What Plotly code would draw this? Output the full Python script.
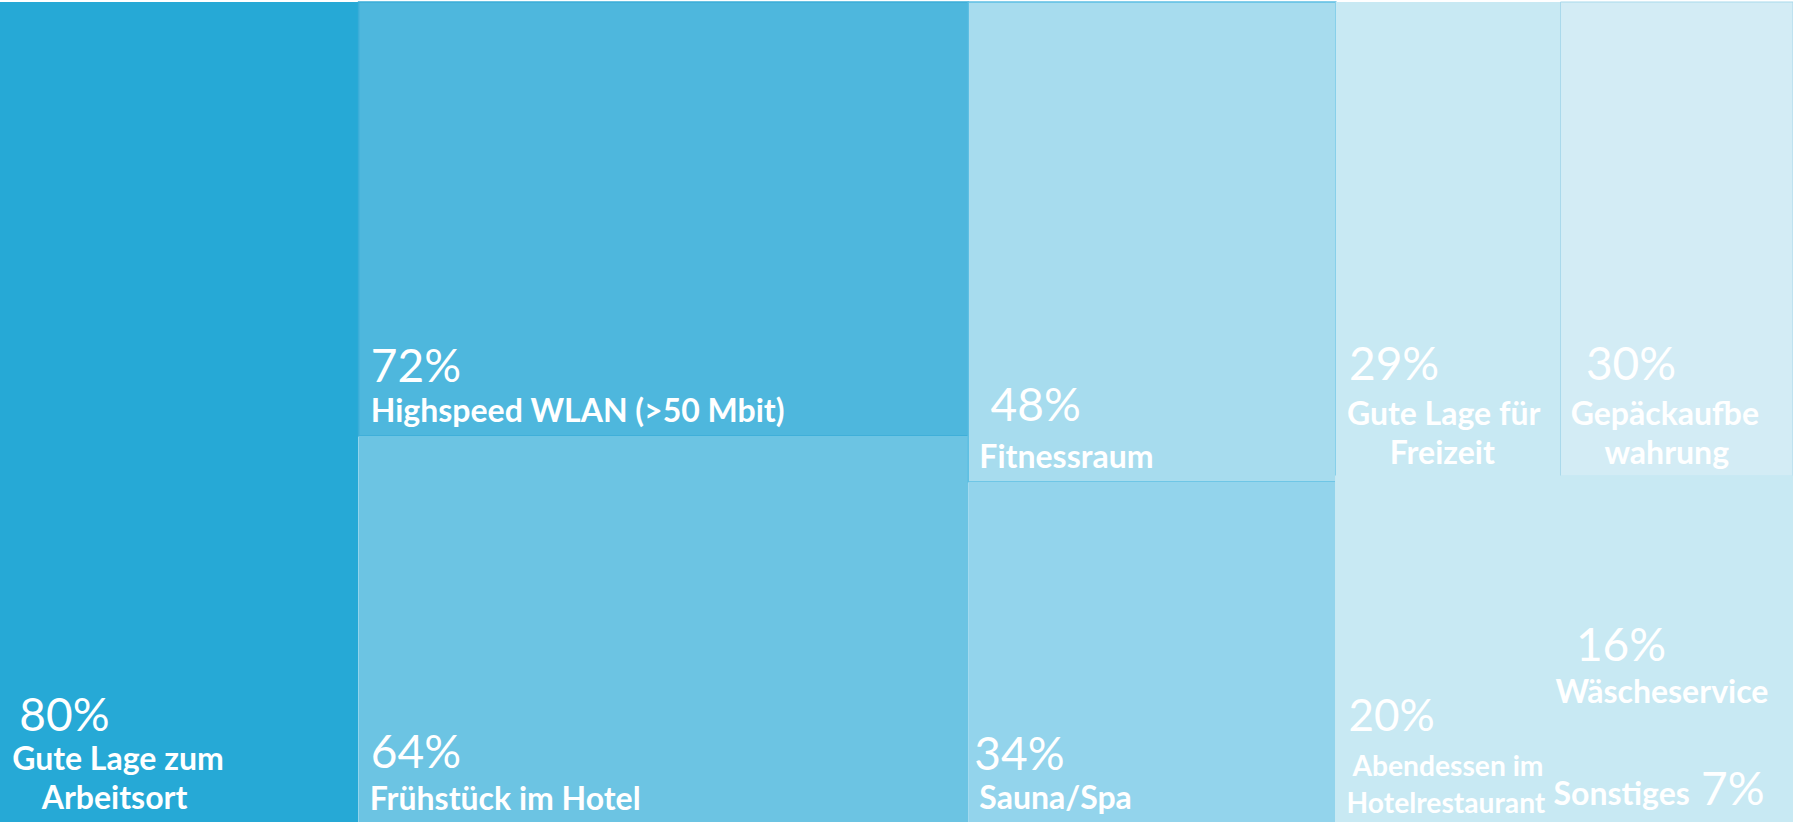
import math
import plotly.graph_objects as go

# ---- data ----
categories = ["Gute Lage zum Arbeitsort", "Highspeed WLAN (>50 Mbit)", "Frühstück im Hotel",
              "Fitnessraum", "Sauna/Spa", "Gute Lage für Freizeit", "Gepäckaufbewahrung",
              "Abendessen im Hotelrestaurant", "Wäscheservice", "Sonstiges"]
label_lines = [["Gute Lage zum", "Arbeitsort"], ["Highspeed WLAN (>50 Mbit)"], ["Frühstück im Hotel"],
               ["Fitnessraum"], ["Sauna/Spa"], ["Gute Lage für", "Freizeit"], ["Gepäckaufbe", "wahrung"],
               ["Abendessen im", "Hotelrestaurant"], ["Wäscheservice"], ["Sonstiges"]]
values = [80, 72, 64, 48, 34, 29, 30, 20, 16, 7]
group_of = ["root", "g2", "g2", "g3", "g3", "r1", "r1", "r2", "s", "s"]
colors = ["#26A9D6", "#4EB7DD", "#6CC4E3", "#A7DCEE", "#93D4EC",
          "#C8E9F3", "#D3ECF5", "#C8E9F3", "#C8E9F3", "#C8E9F3"]

# group nodes: id -> parent
groups = {"g2": "root", "g3": "root", "g4": "root", "r1": "g4", "r2": "g4", "s": "r2"}

# ---- styling ----
# text indents in px per line: [percent line, label lines...]
indents = [[16, 9, 38], [9, 9], [9, 8], [19, 8], [3, 8], [10, 8, 50], [22, 7, 40],
           [10, 14, 8], [24, 4], [2]]
pct_shift = [0, 1, 3, 8, 0, 6, 6, 8, 3, 0]      # raise of percent line (px)
raise_px = [3.4, 4.5, 2.3, 4.5, 3.4, 2.3, 2.3, 0, 4.5, 4.5]  # lift of whole block (px)
lab_size = [32, 32, 32, 32, 32, 32, 32, 29.5, 32, 32]
PCT_SIZE = 46
BASE_SIZE = 30
NBSP_EM = 0.251
DESC_EM = 0.213


def pad(px):
    if px <= 0:
        return ""
    n = max(1, math.ceil(px / (NBSP_EM * 28)))
    size = px / (n * NBSP_EM)
    return f"<span style='font-size:{size:.1f}px'>" + "\u00a0" * n + "</span>"


def strut(line_size, px):
    if px <= 0:
        return ""
    return f"<span style='font-size:{line_size + px / DESC_EM:.1f}px'>\u00a0</span>"


def cell_text(i):
    pct = (f"<span style='font-size:{PCT_SIZE}px;baseline-shift:{pct_shift[i]}px'>"
           f"{values[i]}%</span>")
    ind = indents[i]
    if categories[i] == "Sonstiges":
        lab = f"<span style='font-size:{lab_size[i]}px'><b>{label_lines[i][0]}</b></span>"
        return pad(ind[0]) + lab + pad(11) + pct + strut(PCT_SIZE, raise_px[i])
    lines = [pad(ind[0]) + pct]
    for k, ln in enumerate(label_lines[i]):
        lines.append(pad(ind[k + 1]) + f"<span style='font-size:{lab_size[i]}px'><b>{ln}</b></span>")
    lines[-1] += strut(lab_size[i], raise_px[i])
    return "<br>".join(lines)


# ---- build hierarchy ----
order = [("root", None), ("c", 0), ("g2", None), ("c", 1), ("c", 2), ("g3", None), ("c", 3), ("c", 4),
         ("g4", None), ("r1", None), ("c", 5), ("c", 6), ("r2", None), ("c", 7), ("s", None), ("c", 8), ("c", 9)]

line_col = {1: "#3BADD8", 3: "#5DBFE3", 6: "#A9D9EB"}
line_w = {1: 1.5, 3: 1.5, 6: 1, 7: 1.5, 8: 1.5, 9: 1.5}

ids, parents, labels, vals, texts, fills, lcols, lws = [], [], [], [], [], [], [], []
for kind, i in order:
    if kind == "c":
        ids.append(categories[i])
        parents.append(group_of[i])
        labels.append(categories[i])
        vals.append(values[i])
        texts.append(cell_text(i))
        fills.append(colors[i])
        lcols.append(line_col.get(i, colors[i]))
        lws.append(line_w.get(i, 0))
    else:
        ids.append(kind)
        parents.append("" if kind == "root" else groups[kind])
        labels.append("")
        vals.append(0)
        texts.append("")
        fills.append("#C8E9F3" if kind in ("g4", "r1", "r2", "s") else "#FFFFFF")
        lcols.append("#FFFFFF")
        lws.append(0)

fig = go.Figure(go.Treemap(
    ids=ids, parents=parents, labels=labels, values=vals,
    branchvalues="remainder", sort=False,
    text=texts, texttemplate="%{text}",
    textposition="bottom left",
    textfont=dict(family="Lato", size=BASE_SIZE, color="#FFFFFF"),
    marker=dict(colors=fills, line=dict(color=lcols, width=lws),
                pad=dict(t=0, l=0, r=0, b=0)),
    tiling=dict(packing="slice-dice", pad=0),
    pathbar=dict(visible=False),
    hoverinfo="skip",
))
fig.update_layout(
    width=1793, height=822,
    margin=dict(l=0, r=0, t=2, b=0),
    paper_bgcolor="#FFFFFF",
    showlegend=False,
)
fig.write_html("out.html", config={"displayModeBar": False},
               post_script="document.body.style.margin='0';document.body.style.overflow='hidden';")
